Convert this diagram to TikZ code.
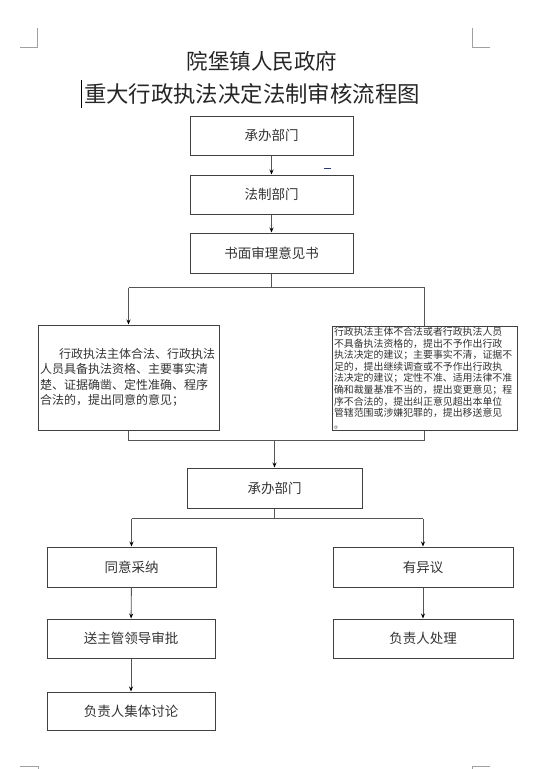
\documentclass[tikz,border=0pt]{standalone}
\usepackage{fontspec}
\setmainfont{Noto Sans CJK SC}
\usetikzlibrary{arrows.meta}
\definecolor{boxc}{HTML}{404040}
\definecolor{linec}{HTML}{555555}
\definecolor{txtc}{HTML}{333333}
\definecolor{markc}{HTML}{A0A0A0}
\definecolor{titlec}{HTML}{262626}
\definecolor{dashc}{HTML}{2A3A7A}
\tikzset{
  flowbox/.style={draw=boxc, line width=1pt, text=txtc, inner sep=0pt,
    font=\fontsize{13.5}{16}\selectfont},
  textbox/.style={draw=boxc, line width=1pt, text=txtc, inner xsep=2pt, inner ysep=0pt, align=left},
  conn/.style={draw=linec, line width=0.9pt},
  arr/.style={conn, -{Stealth[length=5pt,width=4pt,color=black]}},
  cornermark/.style={draw=markc, line width=0.7pt},
  titlefont/.style={text=titlec, inner sep=0pt}
}
\begin{document}
\begin{tikzpicture}[x=1pt,y=-1pt]
\useasboundingbox (0,0) rectangle (539,769);
% page corner marks
\draw[cornermark] (20,47) -- (37.5,47) -- (37.5,28);
\draw[cornermark] (490,47) -- (472,47) -- (472,28);
\draw[cornermark] (20,766) -- (38,766) -- (38,769);
\draw[cornermark] (490,766) -- (472,766) -- (472,769);
% titles
\node[titlefont, font=\fontsize{21.5}{22}\selectfont] (t1) at (262,61) {院堡镇人民政府};
\node[titlefont, font=\fontsize{22.4}{23}\selectfont] (t2) at (252,94) {重大行政执法决定法制审核流程图};
\draw[line width=1.3pt, black] (81.5,80) -- (81.5,108);
% stray mark
\draw[dashc, line width=1pt] (324,168) -- (331,168);
% boxes
\node[flowbox, minimum width=163pt, minimum height=39pt] (b1) at (271.5,135.5) {承办部门};
\node[flowbox, minimum width=163pt, minimum height=39pt] (b2) at (271.5,194.5) {法制部门};
\node[flowbox, minimum width=163pt, minimum height=40pt] (b3) at (271.5,253) {书面审理意见书};
\node[textbox, text width=177pt, minimum height=105pt,
  font=\fontsize{12}{15.5}\selectfont] (L) at (128.5,377.5)
  {\hspace*{19pt}行政执法主体合法、行政执法\\人员具备执法资格、主要事实清\\楚、证据确凿、定性准确、程序\\合法的，提出同意的意见；};
\node[textbox, text width=181pt, minimum height=104pt,
  font=\fontsize{9.9}{11.6}\selectfont] (R) at (424.5,378)
  {行政执法主体不合法或者行政执法人员\\不具备执法资格的，提出不予作出行政\\执法决定的建议；主要事实不清，证据不\\足的，提出继续调查或不予作出行政执\\法决定的建议；定性不准、适用法律不准\\确和裁量基准不当的，提出变更意见；程\\序不合法的，提出纠正意见超出本单位\\管辖范围或涉嫌犯罪的，提出移送意见\\。};
\node[flowbox, minimum width=175pt, minimum height=40pt] (b4) at (274.5,488) {承办部门};
\node[flowbox, minimum width=169pt, minimum height=40pt] (b5) at (131.5,567) {同意采纳};
\node[flowbox, minimum width=180pt, minimum height=40pt] (b6) at (423,567) {有异议};
\node[flowbox, minimum width=168pt, minimum height=39pt] (b7) at (131,638.5) {送主管领导审批};
\node[flowbox, minimum width=168pt, minimum height=38pt] (b8) at (131,711) {负责人集体讨论};
\node[flowbox, minimum width=180pt, minimum height=39pt] (b9) at (423,638.5) {负责人处理};
% connectors
\draw[arr] (b1) -- (b2);
\draw[arr] (b2) -- (b3);
\draw[conn] (b3.south) -- ++(0,14) coordinate (j1);
\draw[conn] (L.north |- j1) -- (R.north |- j1);
\draw[arr] (L.north |- j1) -- (L.north);
\draw[conn] (R.north |- j1) -- (R.north);
\draw[conn] (L.south) -- ++(0,10) coordinate (j2) -- (R.south |- j2) -- (R.south);
\draw[arr] (b4.north |- j2) -- (b4.north);
\draw[conn] (b4.south) -- ++(0,10) coordinate (j3);
\draw[conn] (b5.north |- j3) -- (b6.north |- j3);
\draw[arr] (b5.north |- j3) -- (b5.north);
\draw[arr] (b6.north |- j3) -- (b6.north);
\draw[arr] (b5) -- (b7);
\draw[arr] (b7) -- (b8);
\draw[arr] (b6) -- (b9);
\end{tikzpicture}
\end{document}
